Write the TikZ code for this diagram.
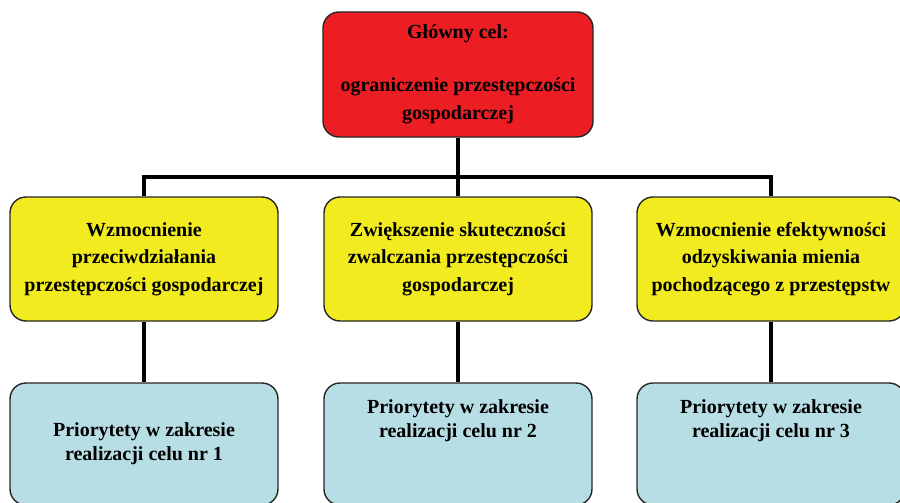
\documentclass[tikz,border=0pt]{standalone}
\usepackage{fontspec}
\setmainfont{Liberation Serif}
\definecolor{goalRed}{RGB}{236,30,36}
\definecolor{aimYellow}{RGB}{242,235,32}
\definecolor{prioBlue}{RGB}{183,222,228}

\tikzstyle{gS}=[rectangle,rounded corners=16pt,draw=black!85,line width=1.4pt,minimum width=270pt,minimum height=125pt,inner sep=0pt,align=center,font=\bfseries\fontsize{20}{28.5}\selectfont]
\tikzstyle{aS}=[gS,fill=aimYellow,minimum width=268pt,minimum height=124pt,font=\bfseries\fontsize{20}{27.5}\selectfont]
\tikzstyle{pS}=[gS,fill=prioBlue,minimum width=268pt,minimum height=122pt,font=\bfseries\fontsize{20}{24}\selectfont]
\tikzstyle{lS}=[line width=4.5pt,black]

\begin{document}
\begin{tikzpicture}[x=1pt,y=-1pt]
                \useasboundingbox (0,0) rectangle (900,503);
                \draw (458,74.5) node[gS,fill=goalRed] (g0) {Główny cel:\\[24.5pt]ograniczenie przestępczości\\gospodarczej};
                \draw (144,259) node[aS] (c1) {Wzmocnienie\\przeciwdziałania\\przestępczości gospodarczej};
                \draw (458,259) node[aS] (c2) {Zwiększenie skuteczności\\zwalczania przestępczości\\gospodarczej};
                \draw (771,259) node[aS] (c3) {Wzmocnienie efektywności\\odzyskiwania mienia\\pochodzącego z przestępstw};
                \draw (144,444) node[pS] (p1) {Priorytety w zakresie\\realizacji celu nr 1};
                \draw (458,444) node[pS,text depth=50pt] (p2) {Priorytety w zakresie\\realizacji celu nr 2};
                \draw (771,444) node[pS,text depth=50pt] (p3) {Priorytety w zakresie\\realizacji celu nr 3};
                \coordinate (bar) at (458,177);
                \draw[lS] (c1.north) |- (bar) -| (c3.north);
                \path
                    (g0) edge[lS] (c2)
                    (c1) edge[lS] (p1)
                    (c2) edge[lS] (p2)
                    (c3) edge[lS] (p3)
                ;
        \end{tikzpicture}
\end{document}
